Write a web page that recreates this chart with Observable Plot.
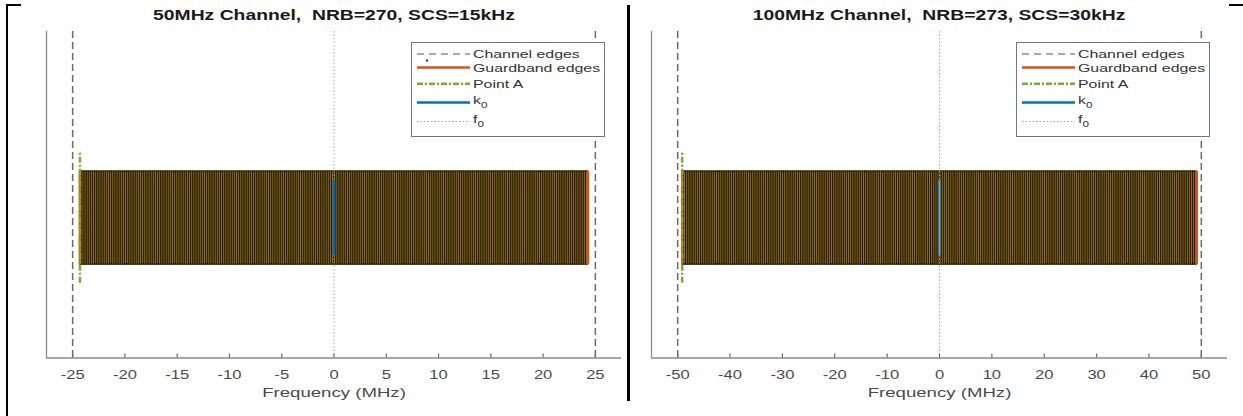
<!DOCTYPE html>
<html>
<head>
<meta charset="utf-8">
<script src="https://cdn.jsdelivr.net/npm/d3@7"></script>
<script src="https://cdn.jsdelivr.net/npm/@observablehq/plot@0.6"></script>
<style>
html,body{margin:0;padding:0;background:#fff;}
body{width:1243px;height:416px;position:relative;overflow:hidden;font-family:"Liberation Sans",Arial,sans-serif;}
.panel{position:absolute;top:0;height:416px;}
.panel svg.plot{position:absolute;left:0;top:0;}
.title{position:absolute;top:6px;font-weight:bold;font-size:14px;color:#1a1a1a;white-space:pre;line-height:18px;transform:translateX(-50%) scaleX(1.38);}
.legend{position:absolute;background:#fff;border:1px solid #777;box-sizing:border-box;}
.legend svg{position:absolute;left:0;top:0;}
.legend span{position:absolute;font-size:11.5px;color:#333;white-space:pre;transform-origin:0 50%;transform:translateY(-50%) scaleX(1.38);line-height:13px;}
.legend sub{font-size:8.5px;vertical-align:-4px;line-height:0;}
.deco{position:absolute;background:#000;z-index:5;}
</style>
</head>
<body>
<script>
// ---- data ----
const panelTitles = ["50MHz Channel,  NRB=270, SCS=15kHz", "100MHz Channel,  NRB=273, SCS=30kHz"];
const channelBW = [50, 100];          // MHz
const nRB = [270, 273];
const scsKHz = [15, 30];
const k0Offset = [0, 0];               // MHz
const xLimits = [[-27.5, 27.5], [-55, 55]];
const xTicks = [
  [-25, -20, -15, -10, -5, 0, 5, 10, 15, 20, 25],
  [-50, -40, -30, -20, -10, 0, 10, 20, 30, 40, 50]
];
const yLimits = [-1, 2.5];
const rbSpan = [0, 1];
const pointASpan = [-0.2, 1.2];
const k0Span = [0.1, 0.9];
const xLabel = "Frequency (MHz)";
const legendLabels = ["Channel edges", "Guardband edges", "Point A", "k", "f"];
const legendSubs = ["", "", "", "0", "0"];

// ---- styles / layout ----
const SX = 1.38;
const layout = [{left: 0, width: 627, mr: 6}, {left: 605, width: 638, mr: 16}];
const legendStyles = [
  {stroke: "#555", width: 1.2, dash: "7,5"},
  {stroke: "#D95319", width: 2.5, dash: null},
  {stroke: "#77AC30", width: 2.5, dash: "6,2,2,2"},
  {stroke: "#0072BD", width: 2.5, dash: null},
  {stroke: "#aaa", width: 1, dash: "1.5,2"}
];
const legendLineY = [11, 24.5, 40.8, 59.5, 78.5];
const legendTextY = [11, 25, 41.5, 57.5, 76.5];

function buildPanel(i) {
  const L = layout[i];
  const rbW = 12 * scsKHz[i] / 1000;
  const half = nRB[i] * rbW / 2;
  const rbs = d3.range(nRB[i]).map(k => ({x1: -half + k * rbW, x2: -half + (k + 1) * rbW}));

  const div = document.createElement("div");
  div.className = "panel";
  div.style.left = L.left + "px";
  div.style.width = L.width + "px";
  document.body.appendChild(div);

  const svg = Plot.plot({
    width: L.width, height: 416,
    marginLeft: 46, marginRight: L.mr, marginTop: 31, marginBottom: 58.5,
    style: {background: "transparent", fontFamily: '"Liberation Sans", Arial, sans-serif', fontSize: "12px", color: "#4a4a4a", overflow: "visible"},
    x: {domain: xLimits[i], ticks: xTicks[i], tickFormat: d => String(d), tickSize: 0, tickPadding: 12,
        label: xLabel, labelAnchor: "center", labelArrow: "none", labelOffset: 39},
    y: {domain: yLimits, axis: null},
    marks: [
      Plot.rect(rbs, {x1: "x1", x2: "x2", y1: rbSpan[0], y2: rbSpan[1], fill: "#a47f22", stroke: "#221804", strokeWidth: 1}),
      Plot.ruleX([-half, half], {y1: rbSpan[0], y2: rbSpan[1], stroke: "#D95319", strokeWidth: 2.5}),
      Plot.ruleX([-half], {y1: pointASpan[0], y2: pointASpan[1], stroke: "#77AC30", strokeWidth: 2.5, strokeDasharray: "6,2,2,2"}),
      Plot.ruleX([0], {stroke: "#aaa", strokeWidth: 1, strokeDasharray: "1.5,2"}),
      Plot.ruleX([k0Offset[i]], {y1: k0Span[0], y2: k0Span[1], stroke: i ? "#4aa8e0" : "#0B63B0", strokeWidth: i ? 2 : 3}),
      Plot.ruleX([-channelBW[i] / 2, channelBW[i] / 2], {stroke: "#6a6a6a", strokeWidth: 1.5, strokeDasharray: "7,4"}),
      Plot.ruleX([xLimits[i][0]], {stroke: "#8a8a8a", strokeWidth: 1.3}),
      Plot.ruleY([yLimits[0]], {stroke: "#8a8a8a", strokeWidth: 1.3}),
      Plot.ruleX(xTicks[i], {x: d => d, y1: yLimits[0], y2: yLimits[0], insetTop: -4, stroke: "#6a6a6a", strokeWidth: 1.2})
    ]
  });
  svg.classList.add("plot");
  const lab = svg.querySelector('[aria-label="x-axis label"]');
  if (lab) lab.setAttribute("font-size", "13.5px");
  for (const t of svg.querySelectorAll("text")) {
    const tr = t.getAttribute("transform");
    if (tr && !t.hasAttribute("x")) t.setAttribute("transform", tr + ` scale(${SX},1)`);
  }
  div.appendChild(svg);

  // title centered on 0 MHz
  const xs = d3.scaleLinear().domain(xLimits[i]).range([46, L.width - L.mr]);
  const title = document.createElement("div");
  title.className = "title";
  title.textContent = panelTitles[i];
  title.style.left = xs(0) + "px";
  div.appendChild(title);

  // legend
  const lg = document.createElement("div");
  lg.className = "legend";
  lg.style.left = "411px"; lg.style.top = "41.5px";
  lg.style.width = "194px"; lg.style.height = "95px";
  div.appendChild(lg);
  const ls = d3.select(lg).append("svg").attr("width", 194).attr("height", 95);
  legendLabels.forEach((name, j) => {
    const st = legendStyles[j];
    ls.append("line").attr("x1", 5).attr("x2", 58).attr("y1", legendLineY[j]).attr("y2", legendLineY[j])
      .attr("stroke", st.stroke).attr("stroke-width", st.width).attr("stroke-dasharray", st.dash);
    const sp = document.createElement("span");
    sp.style.left = "61px";
    sp.style.top = legendTextY[j] + "px";
    sp.textContent = name;
    if (legendSubs[j]) {
      const sb = document.createElement("sub");
      sb.textContent = legendSubs[j];
      sp.appendChild(sb);
    }
    lg.appendChild(sp);
  });
  if (i === 0) ls.append("circle").attr("cx", 15).attr("cy", 17.5).attr("r", 1.2).attr("fill", "#1f3fd0");
}

buildPanel(0);
buildPanel(1);

// page frame decorations
[[6, 4, 2, 412], [6, 4, 15, 2], [627, 5, 3, 396], [1229, 4, 14, 2]].forEach(([l, t, w, h]) => {
  const d = document.createElement("div");
  d.className = "deco";
  Object.assign(d.style, {left: l + "px", top: t + "px", width: w + "px", height: h + "px"});
  document.body.appendChild(d);
});
</script>
</body>
</html>
